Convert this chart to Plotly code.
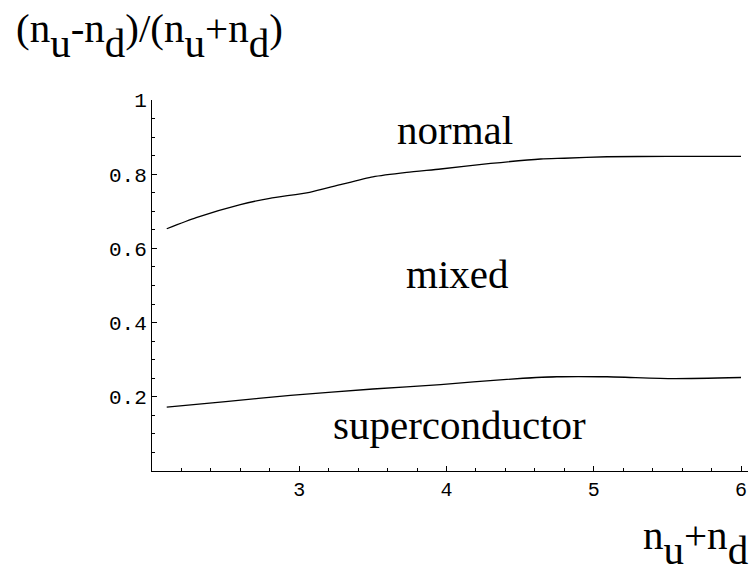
import plotly.graph_objects as go

# ---- data ----
x_upper = [2.10, 2.30, 2.60, 2.80, 3.07, 3.28, 3.50, 3.73, 3.96, 4.30, 4.64, 4.80, 5.09, 5.50, 6.00]
y_upper = [0.653, 0.683, 0.718, 0.735, 0.751, 0.772, 0.793, 0.805, 0.814, 0.829, 0.841, 0.843, 0.847, 0.848, 0.848]

x_lower = [2.10, 2.50, 2.94, 3.50, 3.96, 4.41, 4.75, 5.09, 5.54, 6.00]
y_lower = [0.172, 0.187, 0.204, 0.221, 0.233, 0.247, 0.254, 0.254, 0.249, 0.252]

region_labels = ["normal", "mixed", "superconductor"]
region_x = [4.06, 4.07, 4.09]
region_y = [0.92, 0.53, 0.125]

x_tickvals = [3, 4, 5, 6]
x_ticktext = ["3", "4", "5", "6"]
y_tickvals = [0.2, 0.4, 0.6, 0.8, 1.0]
y_ticktext = ["0.2", "0.4", "0.6", "0.8", "1"]

SERIF = "Liberation Serif, Times New Roman, serif"
MONO = "Liberation Mono, Courier New, monospace"
FS = 41

def sub(s):
    return '<sub><sub><span style="font-size:%dpx">%s</span></sub></sub>' % (FS, s)

y_title = "(n" + sub("u") + "-n" + sub("d") + ")/(n" + sub("u") + "+n" + sub("d") + ")"
x_title = "n" + sub("u") + "+n" + sub("d")

fig = go.Figure()
for xs, ys in [(x_upper, y_upper), (x_lower, y_lower)]:
    fig.add_trace(go.Scatter(x=xs, y=ys, mode="lines",
                             line=dict(color="black", width=1.3, shape="spline", smoothing=0.6),
                             showlegend=False, hoverinfo="skip"))

annotations = []
for t, x, y in zip(region_labels, region_x, region_y):
    annotations.append(dict(text=t, x=x, y=y, xref="x", yref="y", showarrow=False,
                            xanchor="center", yanchor="middle",
                            font=dict(family=SERIF, size=FS, color="black")))

annotations.append(dict(text=y_title, x=-0.232, y=1.261, xref="paper", yref="paper",
                        showarrow=False, xanchor="left", yanchor="top",
                        font=dict(family=SERIF, size=FS, color="black")))
annotations.append(dict(text=x_title, x=1.004, y=-0.281, xref="paper", yref="paper",
                        showarrow=False, xanchor="right", yanchor="bottom",
                        font=dict(family=SERIF, size=FS, color="black")))

fig.update_layout(
    width=752, height=574,
    margin=dict(l=152, r=4, t=100, b=102.5, autoexpand=False),
    paper_bgcolor="white", plot_bgcolor="white",
    annotations=annotations,
    xaxis=dict(range=[2, 6.0475], showgrid=False, zeroline=False,
               showline=True, linecolor="black", linewidth=1,
               tickmode="array", tickvals=x_tickvals, ticktext=x_ticktext,
               ticks="inside", ticklen=5, tickcolor="black", tickwidth=1,
               minor=dict(tickmode="linear", tick0=2, dtick=0.2, ticks="inside",
                          ticklen=3, tickcolor="black", tickwidth=1, showgrid=False),
               tickfont=dict(family=MONO, size=20, color="black")),
    yaxis=dict(range=[0, 1], showgrid=False, zeroline=False,
               showline=True, linecolor="black", linewidth=1,
               tickmode="array", tickvals=y_tickvals, ticktext=y_ticktext,
               ticks="inside", ticklen=5, tickcolor="black", tickwidth=1,
               minor=dict(tickmode="linear", tick0=0, dtick=0.05, ticks="inside",
                          ticklen=3, tickcolor="black", tickwidth=1, showgrid=False),
               tickfont=dict(family=MONO, size=21, color="black")),
)

fig.write_html("out.html")
